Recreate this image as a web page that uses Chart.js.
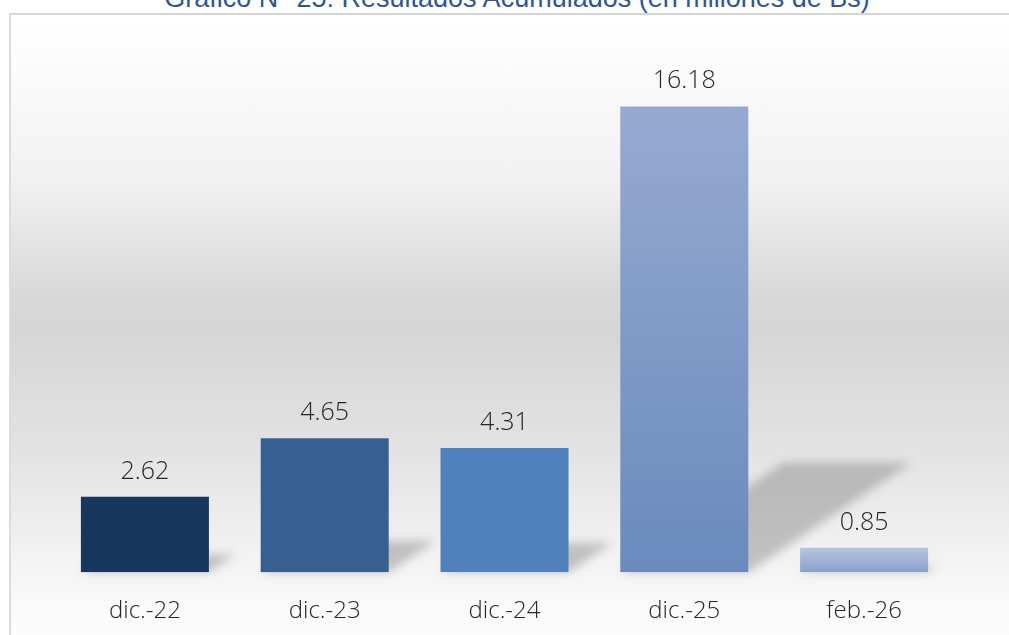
<!DOCTYPE html>
<html>
<head>
<meta charset="utf-8">
<script src="https://cdn.jsdelivr.net/npm/chart.js@4.4.1/dist/chart.umd.min.js"></script>
<style>
  html, body { margin: 0; padding: 0; background: #ffffff; width: 1009px; height: 635px; overflow: hidden; }
  #frame {
    position: absolute; left: 9px; top: 13px; width: 1100px; height: 640px;
    border-top: 2px solid #d6d6d6; border-left: 2px solid #dcdcdc;
    background: linear-gradient(to bottom, #ffffff 0px, #fbfbfb 60px, #f0f0f0 170px, #d8d8d8 280px, #d6d6d6 320px, #e2e2e2 430px, #f2f2f2 540px, #fafafa 590px, #fdfdfd 640px);
  }
  #title {
    position: absolute; left: 0; width: 1034px; top: -15px; text-align: center;
    font-family: "Liberation Sans", Arial, sans-serif; font-size: 27px; line-height: 27px;
    color: #2e5597; white-space: nowrap;
  }
  #wrap { position: absolute; left: 0; top: 0; width: 1009px; height: 643px; }
</style>
</head>
<body>
<div id="frame"></div>
<div id="title">Gráfico N° 25: Resultados Acumulados (en millones de Bs)</div>
<div id="wrap"><canvas id="c" width="1009" height="643"></canvas></div>
<script>
const categories = ["dic.-22", "dic.-23", "dic.-24", "dic.-25", "feb.-26"];
const values = [2.62, 4.65, 4.31, 16.18, 0.85];
const valueLabels = ["2.62", "4.65", "4.31", "16.18", "0.85"];
const barTopColors = ["#17375e", "#366092", "#4f81bd", "#96aad1", "#b6c5e0"];
const barBottomColors = ["#17375e", "#366092", "#4f81bd", "#6a8abd", "#8aa1cc"];

function barFill(ctx) {
  const chart = ctx.chart;
  const i = ctx.dataIndex;
  const ys = chart.scales && chart.scales.y;
  if (!ys || barTopColors[i] === barBottomColors[i]) return barTopColors[i];
  const top = ys.getPixelForValue(values[i]);
  const bottom = ys.getPixelForValue(0);
  if (!isFinite(top) || !isFinite(bottom) || bottom - top < 1) return barTopColors[i];
  const g = chart.ctx.createLinearGradient(0, top, 0, bottom);
  g.addColorStop(0, barTopColors[i]);
  g.addColorStop(1, barBottomColors[i]);
  return g;
}

const shadowPlugin = {
  id: 'shadows',
  beforeDatasetsDraw(chart) {
    const ctx = chart.ctx;
    const meta = chart.getDatasetMeta(0);
    const base = chart.scales.y.getPixelForValue(0);
    ctx.save();
    ctx.filter = 'blur(5px)';
    ctx.fillStyle = 'rgba(110,110,110,0.38)';
    meta.data.forEach((el) => {
      const h = base - el.y;
      const x0 = el.x - el.width / 2, x1 = el.x + el.width / 2;
      const dx = 0.35 * h, dy = 0.235 * h;
      ctx.beginPath();
      ctx.moveTo(x0, base);
      ctx.lineTo(x1, base);
      ctx.lineTo(x1 + dx, base - dy);
      ctx.lineTo(x0 + dx, base - dy);
      ctx.closePath();
      ctx.fill();
    });
    ctx.restore();
  }
};

const valueLabelPlugin = {
  id: 'valueLabels',
  afterDatasetsDraw(chart) {
    const ctx = chart.ctx;
    const meta = chart.getDatasetMeta(0);
    ctx.save();
    ctx.font = '300 25px "Open Sans", sans-serif';
    ctx.fillStyle = '#262626';
    ctx.textAlign = 'center';
    ctx.textBaseline = 'alphabetic';
    meta.data.forEach((el, i) => {
      ctx.fillText(valueLabels[i], el.x, el.y - 18);
    });
    ctx.restore();
  }
};

new Chart(document.getElementById('c'), {
  type: 'bar',
  data: {
    labels: categories,
    datasets: [{
      data: values,
      backgroundColor: barFill,
      borderWidth: 0,
      categoryPercentage: 1.0,
      barPercentage: 0.712
    }]
  },
  options: {
    responsive: false,
    animation: false,
    events: [],
    layout: { padding: { top: 54, left: 55, right: 55, bottom: 0 } },
    plugins: { legend: { display: false }, tooltip: { enabled: false }, title: { display: false } },
    scales: {
      x: {
        grid: { display: false },
        border: { display: false },
        ticks: { color: '#262626', padding: 17, font: { family: '"Open Sans", sans-serif', size: 24, weight: '300' } }
      },
      y: { display: false, min: 0, max: 18 }
    }
  },
  plugins: [shadowPlugin, valueLabelPlugin]
});
</script>
</body>
</html>
